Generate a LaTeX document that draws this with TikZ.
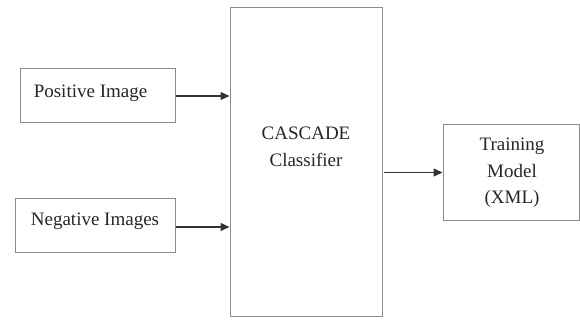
\documentclass[tikz,border=0pt]{standalone}
\usepackage{fontspec}
\setmainfont{Liberation Serif}
\usetikzlibrary{arrows.meta}
\begin{document}
\begin{tikzpicture}[x=1pt,y=-1pt,
  box/.style={draw=black!45, line width=1pt, inner sep=0pt, rectangle},
  lbl/.style={text=black!85, font=\fontsize{19}{26.5}\selectfont, inner sep=0pt, align=center},
  arr/.style={draw=black!80, line width=1.3pt, -{Triangle[length=9pt,width=8pt]}}]
\useasboundingbox (0,0) rectangle (580,320);
\node[box, minimum width=155pt, minimum height=54pt] (pos) at (97.5,96) {};
\node[box, minimum width=160pt, minimum height=53pt] (neg) at (95,225.5) {};
\node[box, minimum width=152pt, minimum height=308pt] (casc) at (306,162) {};
\node[box, minimum width=136pt, minimum height=95pt] (train) at (511,172.5) {};
\node[lbl] (posT) at (90.5,93) {Positive Image};
\node[lbl] (negT) at (95,221) {Negative Images};
\node[lbl] (cascT) at (306,147) {CASCADE\\Classifier};
\node[lbl] (trainT) at (512,173) {Training\\Model\\(XML)};
\draw[arr] (pos.east) -- (pos.east -| casc.west);
\draw[arr] ([yshift=-1.5pt]neg.east) -- ([yshift=-1.5pt]neg.east -| casc.west);
\draw[arr] ([xshift=1.5pt]casc.east |- train.west) -- (train.west);
\end{tikzpicture}
\end{document}
